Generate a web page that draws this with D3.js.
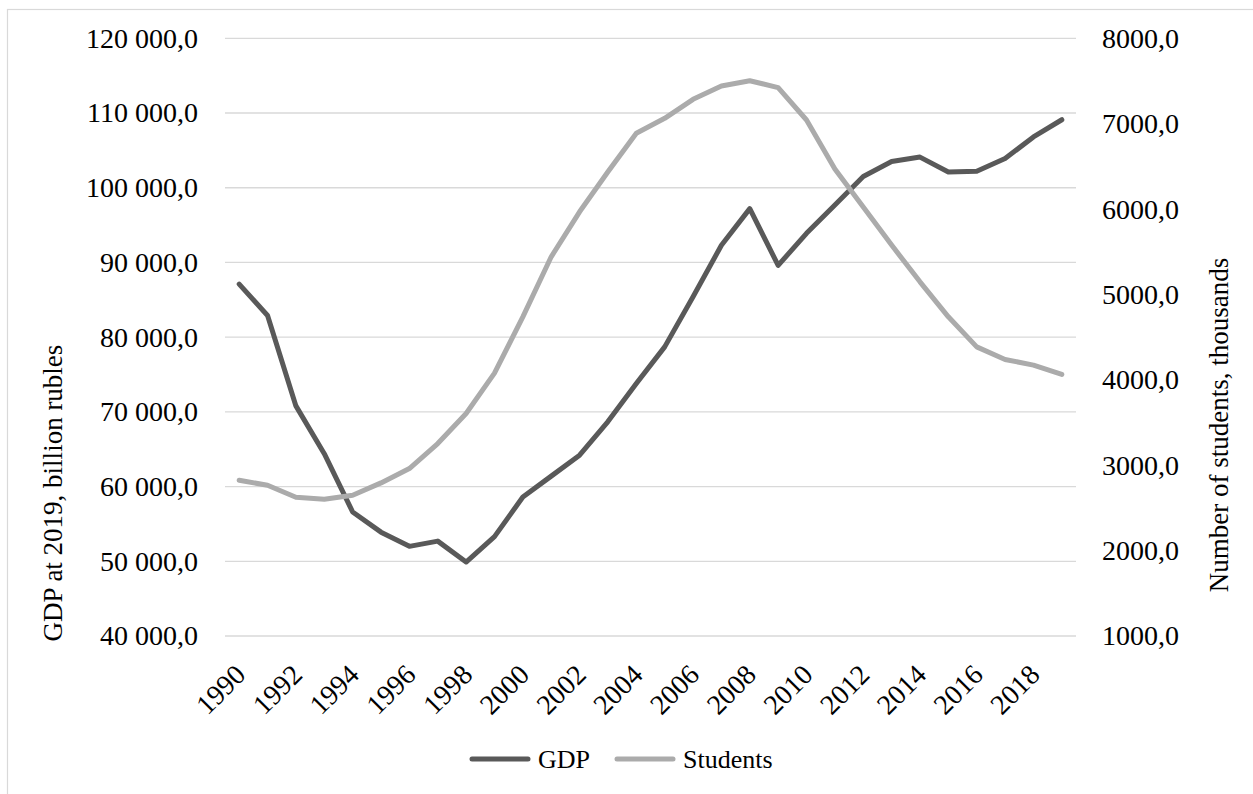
<!DOCTYPE html>
<html>
<head>
<meta charset="utf-8">
<script src="https://cdn.jsdelivr.net/npm/d3@7"></script>
<style>
    body { margin: 0; background: #fff; }
    text { font-family: "Liberation Serif", "Times New Roman", serif; fill: #000; }
</style>
</head>
<body>
<div id="chart"></div>
<script>
// Data
const years = d3.range(1990, 2020);
const gdp = [87100, 82900, 70800, 64400, 56600, 53900, 52000, 52700, 49900, 53300,
    58600, 61400, 64200, 68700, 73800, 78700, 85400, 92300, 97200, 89600,
    93900, 97700, 101500, 103500, 104100, 102100, 102200, 103900, 106800, 109100];
const students = [2824, 2766, 2625, 2602, 2648, 2793, 2961, 3254, 3606, 4078,
    4738, 5441, 5968, 6437, 6887, 7063, 7285, 7441, 7503, 7423,
    7043, 6468, 6023, 5578, 5148, 4738, 4386, 4239, 4172, 4063];
const gdpTicks = [40000, 50000, 60000, 70000, 80000, 90000, 100000, 110000, 120000];
const studentTicks = [1000, 2000, 3000, 4000, 5000, 6000, 7000, 8000];
const yearLabels = years.filter(d => (d - 1990) % 2 === 0);

const width = 1253;
const height = 794;
const plot = { left: 225, right: 1076, top: 38.3, bottom: 636 };

const ru = d3.formatLocale({ decimal: ",", thousands: " ", grouping: [3], currency: ["", ""] });
const fmtLeft = ru.format(",.1f");
const fmtRight = ru.format(".1f");

const svg = d3.select("#chart").append("svg")
    .attr("width", width)
    .attr("height", height);

// chart area border
svg.append("rect")
    .attr("x", 7.5)
    .attr("y", 9.5)
    .attr("width", 1300)
    .attr("height", 900)
    .attr("fill", "none")
    .attr("stroke", "#d9d9d9")
    .attr("stroke-width", 1.2);

const x = d3.scalePoint()
    .domain(years)
    .range([plot.left, plot.right])
    .padding(0.5);

const yLeft = d3.scaleLinear()
    .domain([40000, 120000])
    .range([plot.bottom, plot.top]);

const yRight = d3.scaleLinear()
    .domain([1000, 8000])
    .range([plot.bottom, plot.top]);

// Gridlines
svg.append("g")
    .selectAll("line")
    .data(gdpTicks)
    .enter()
    .append("line")
    .attr("x1", plot.left)
    .attr("x2", plot.right)
    .attr("y1", d => yLeft(d))
    .attr("y2", d => yLeft(d))
    .attr("stroke", "#d9d9d9")
    .attr("stroke-width", 1.3);

// Left axis
const leftAxis = svg.append("g")
    .attr("transform", `translate(${plot.left - 27},0)`)
    .call(d3.axisLeft(yLeft).tickValues(gdpTicks).tickFormat(fmtLeft).tickSize(0).tickPadding(0));
leftAxis.select(".domain").remove();
leftAxis.selectAll("text")
    .style("font-size", "28px")
    .style("font-family", "Liberation Serif");

// Right axis
const rightAxis = svg.append("g")
    .attr("transform", `translate(${plot.right + 26},0)`)
    .call(d3.axisRight(yRight).tickValues(studentTicks).tickFormat(fmtRight).tickSize(0).tickPadding(0));
rightAxis.select(".domain").remove();
rightAxis.selectAll("text")
    .style("font-size", "28px")
    .style("font-family", "Liberation Serif");

// X axis labels (rotated)
const xAxis = svg.append("g")
    .attr("transform", `translate(0,${plot.bottom})`)
    .call(d3.axisBottom(x).tickValues(yearLabels).tickSize(0).tickPadding(0));
xAxis.select(".domain").remove();
xAxis.selectAll("text")
    .style("font-size", "28px")
    .style("font-family", "Liberation Serif")
    .attr("text-anchor", "end")
    .attr("y", 0)
    .attr("dy", "0.68em")
    .attr("transform", "translate(-6,27) rotate(-45)");

// Lines
const gdpLine = d3.line()
    .x((d, i) => x(years[i]))
    .y(d => yLeft(d));

const studentLine = d3.line()
    .x((d, i) => x(years[i]))
    .y(d => yRight(d));

svg.append("path")
    .datum(gdp)
    .attr("fill", "none")
    .attr("stroke", "#595959")
    .attr("stroke-width", 5)
    .attr("stroke-linejoin", "round")
    .attr("stroke-linecap", "round")
    .attr("d", gdpLine);

svg.append("path")
    .datum(students)
    .attr("fill", "none")
    .attr("stroke", "#ababab")
    .attr("stroke-width", 5)
    .attr("stroke-linejoin", "round")
    .attr("stroke-linecap", "round")
    .attr("d", studentLine);

// Axis titles
svg.append("text")
    .attr("transform", "translate(62,493) rotate(-90)")
    .attr("text-anchor", "middle")
    .style("font-size", "27px")
    .text("GDP at 2019, billion rubles");

svg.append("text")
    .attr("transform", "translate(1228,425) rotate(-90)")
    .attr("text-anchor", "middle")
    .style("font-size", "27px")
    .text("Number of students, thousands");

// Legend
const legend = [
    { name: "GDP", color: "#595959", x: 472 },
    { name: "Students", color: "#ababab", x: 617 }
];
const lg = svg.append("g").selectAll("g")
    .data(legend)
    .enter()
    .append("g")
    .attr("transform", d => `translate(${d.x},759)`);
lg.append("line")
    .attr("x1", 0)
    .attr("x2", 56)
    .attr("stroke", d => d.color)
    .attr("stroke-width", 5)
    .attr("stroke-linecap", "round");
lg.append("text")
    .attr("x", 66)
    .attr("dy", "0.35em")
    .style("font-size", "26px")
    .text(d => d.name);
</script>
</body>
</html>
